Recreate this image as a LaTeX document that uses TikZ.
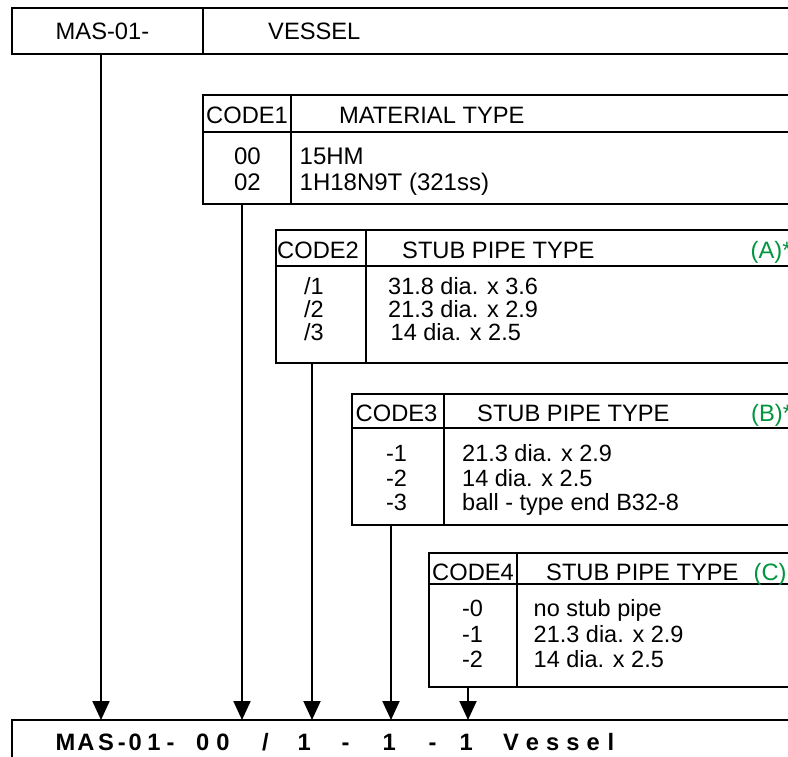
\documentclass[tikz,border=0pt]{standalone}
\usepackage{fontspec}
\setmainfont{Liberation Sans}
\usetikzlibrary{arrows.meta}
\definecolor{codegreen}{RGB}{0,150,64}
\newcommand\hdfont{\fontsize{23.7}{23.7}\selectfont}
\newcommand\bdfont{\fontsize{23.5}{23.5}\selectfont}
\newcommand\bigbold{\fontsize{23.7}{23.7}\selectfont\bfseries}
\tikzset{
  frame/.style={line width=2.5pt, line join=miter},
  conn/.style={line width=2pt, -{Triangle[length=19pt,width=17pt]}},
  lt/.style={anchor=base west, inner sep=0pt, font=\hdfont},
  ct/.style={anchor=base, inner sep=0pt, font=\bdfont},
  bt/.style={anchor=base west, inner sep=0pt, font=\bdfont},
  gr/.style={lt, text=codegreen},
}
\begin{document}
\begin{tikzpicture}[x=1pt,y=-1pt]
\useasboundingbox (0,0) rectangle (788,756);
\clip (0,0) rectangle (788,756);
\fill[white] (0,0) rectangle (788,756);

% top box
\draw[frame] (12,8) rectangle (810,54);
\draw[frame] (203,8) -- (203,54);
\node[lt] (mas) at (55.5,39) {MAS-01-};
\node[lt] (vessel) at (268,39) {VESSEL};

% table 1
\draw[frame] (203,95) rectangle (810,204);
\draw[frame] (203,132) -- (810,132);
\draw[frame] (291,95) -- (291,204);
\node[lt] (c1h) at (206,123) {CODE1};
\node[lt] (m1h) at (339,123) {MATERIAL TYPE};
\node[ct,font=\fontsize{24}{24}\selectfont] (c1a) at (247.5,164) {00};
\node[ct,font=\fontsize{24}{24}\selectfont] (c1b) at (247.5,190) {02};
\node[bt,font=\fontsize{24}{24}\selectfont] (d1a) at (299.5,164) {15HM};
\node[bt,font=\fontsize{24}{24}\selectfont] (d1b) at (299.5,190) {1H18N9T (321ss)};

% table 2
\draw[frame] (276,230) rectangle (810,363);
\draw[frame] (276,266) -- (810,266);
\draw[frame] (366,230) -- (366,363);
\node[lt] (c2h) at (277,258) {CODE2};
\node[lt] (s2h) at (402,258) {STUB PIPE TYPE};
\node[gr] (a2h) at (750.5,258) {(A)*};
\node[ct] (c2a) at (314,294) {/1};
\node[ct] (c2b) at (314,317) {/2};
\node[ct] (c2c) at (314,340) {/3};
\node[bt] (d2a) at (388,294) {31.8 dia. x 3.6};
\node[bt] (d2b) at (388,317) {21.3 dia. x 2.9};
\node[bt] (d2c) at (390.5,340) {14 dia. x 2.5};

% table 3
\draw[frame] (352,394) rectangle (810,525);
\draw[frame] (352,428) -- (810,428);
\draw[frame] (444,394) -- (444,525);
\node[lt] (c3h) at (355.5,421) {CODE3};
\node[lt] (s3h) at (477,421) {STUB PIPE TYPE};
\node[gr] (b3h) at (751,421) {(B)*};
\node[ct] (c3a) at (396.5,461.5) {-1};
\node[ct] (c3b) at (396.5,486) {-2};
\node[ct] (c3c) at (396.5,510.5) {-3};
\node[bt] (d3a) at (462,461.5) {21.3 dia. x 2.9};
\node[bt] (d3b) at (462,486) {14 dia. x 2.5};
\node[bt] (d3c) at (462,510.5) {ball - type end B32-8};

% table 4
\draw[frame] (429,553) rectangle (810,687);
\draw[frame] (429,584) -- (810,584);
\draw[frame] (517,553) -- (517,687);
\node[lt] (c4h) at (432,580) {CODE4};
\node[lt] (s4h) at (546,580) {STUB PIPE TYPE};
\node[gr] (cc4h) at (753.5,580) {(C)};
\node[ct] (c4a) at (472.5,616) {-0};
\node[ct] (c4b) at (472.5,642) {-1};
\node[ct] (c4c) at (472.5,667.5) {-2};
\node[bt] (d4a) at (533.5,616) {no stub pipe};
\node[bt] (d4b) at (533.5,642) {21.3 dia. x 2.9};
\node[bt] (d4c) at (533.5,667.5) {14 dia. x 2.5};

% bottom box
\draw[frame] (12,770) -- (12,720) -- (810,720);
\node[anchor=base west, inner sep=0pt, font=\bigbold] (result) at (55.5,750)
 {\makebox[140.5pt][l]{M\kern2pt A\kern3.5pt S\kern4pt -\kern3pt 0\kern5.5pt 1\kern6pt -}%
  \makebox[66pt][l]{0\kern7pt 0}%
  \makebox[35.5pt][l]{/}%
  \makebox[44pt][l]{1}%
  \makebox[41pt][l]{-}%
  \makebox[46pt][l]{1}%
  \makebox[31pt][l]{-}%
  \makebox[43.5pt][l]{1}%
  V\kern7pt e\kern7pt s\kern7pt s\kern7pt e\kern8pt l};

% connector coordinates
\coordinate (s0) at (101,54);   \coordinate (e0) at (101,720);
\coordinate (s1) at (242,204);  \coordinate (e1) at (242,720);
\coordinate (s2) at (312,363);  \coordinate (e2) at (312,720);
\coordinate (s3) at (391,525);  \coordinate (e3) at (391,720);
\coordinate (s4) at (468,687);  \coordinate (e4) at (468,720);
\draw[conn] (s0) -- (e0);
\draw[conn] (s1) -- (e1);
\draw[conn] (s2) -- (e2);
\draw[conn] (s3) -- (e3);
\draw[conn] (s4) -- (e4);
\end{tikzpicture}
\end{document}
